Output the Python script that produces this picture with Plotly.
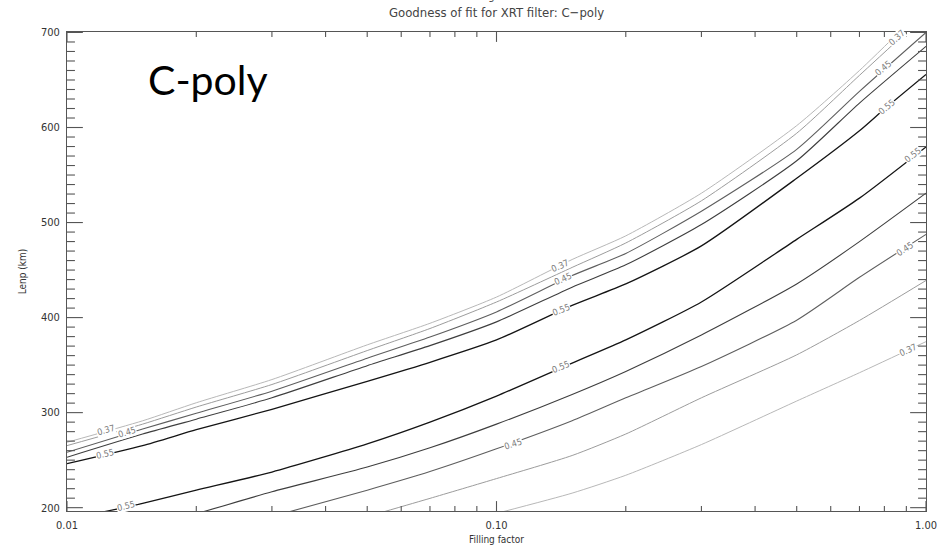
import numpy as np
import plotly.graph_objects as go

# ---------------- data ----------------
# upper branch contours
u37_x = [0.01, 0.015, 0.02, 0.03, 0.05, 0.07, 0.1, 0.15, 0.2, 0.3, 0.5, 0.7, 0.92]
u37_y = [268.8, 291.4, 310.4, 334.8, 371.3, 394.0, 421.6, 461.1, 486.0, 530.9, 602.0, 660.0, 712.0]
u41_x = [0.01, 0.015, 0.02, 0.03, 0.05, 0.07, 0.1, 0.15, 0.2, 0.3, 0.5, 0.7, 0.95]
u41_y = [265.3, 287.9, 305.9, 329.6, 365.3, 388.5, 416.4, 452.8, 478.5, 522.9, 594.0, 654.9, 710.0]
u45_x = [0.01, 0.015, 0.02, 0.03, 0.05, 0.07, 0.1, 0.15, 0.2, 0.3, 0.5, 0.7, 1.0]
u45_y = [258.3, 282.7, 299.4, 322.6, 357.3, 379.5, 405.9, 444.2, 467.5, 511.9, 577.0, 638.0, 700.0]
u50_x = [0.01, 0.015, 0.02, 0.03, 0.05, 0.07, 0.1, 0.15, 0.2, 0.3, 0.5, 0.7, 1.0]
u50_y = [253.1, 277.5, 293.1, 315.6, 349.4, 370.5, 395.5, 432.0, 455.5, 497.9, 565.0, 625.7, 685.4]
u55_x = [0.01, 0.015, 0.02, 0.03, 0.05, 0.07, 0.1, 0.15, 0.2, 0.3, 0.5, 0.7, 0.8, 1.0]
u55_y = [246.3, 265.3, 282.0, 303.5, 333.0, 353.0, 376.5, 412.9, 435.4, 475.4, 546.6, 596.6, 619.5, 655.9]

# lower branch contours
l55_x = [0.012, 0.015, 0.02, 0.03, 0.05, 0.07, 0.1, 0.15, 0.2, 0.3, 0.5, 0.7, 1.0]
l55_y = [195.0, 204.6, 218.4, 237.5, 267.1, 290.0, 317.4, 352.1, 376.5, 416.4, 482.3, 525.7, 579.6]
l50_x = [0.0205, 0.03, 0.05, 0.07, 0.1, 0.15, 0.2, 0.3, 0.5, 0.7, 1.0]
l50_y = [195.0, 216.7, 242.7, 263.0, 287.9, 319.2, 343.4, 381.7, 435.4, 479.9, 530.9]
l45_x = [0.0325, 0.05, 0.07, 0.1, 0.15, 0.2, 0.3, 0.5, 0.7, 1.0]
l45_y = [195.0, 218.4, 238.0, 261.9, 291.4, 315.6, 348.6, 397.3, 442.4, 487.5]
l41_x = [0.054, 0.07, 0.1, 0.15, 0.2, 0.3, 0.5, 0.7, 1.0]
l41_y = [195.0, 209.8, 230.6, 254.9, 277.5, 315.6, 360.8, 397.0, 439.0]
l37_x = [0.102, 0.15, 0.2, 0.3, 0.5, 0.7, 1.0]
l37_y = [195.0, 215.3, 234.1, 266.4, 312.2, 342.0, 374.7]

# contour labels
label_text = ["0.37", "0.45", "0.55", "0.55", "0.37", "0.45", "0.55", "0.55",
              "0.45", "0.37", "0.45", "0.55", "0.55", "0.45", "0.37"]
label_x = [0.01235, 0.01383, 0.01224, 0.01374, 0.1405, 0.1426, 0.1412, 0.1412,
           0.1093, 0.854, 0.796, 0.81, 0.933, 0.893, 0.909]
label_y = [281.5, 279.5, 256.5, 201.8, 454.6, 440.6, 408.5, 347.5,
           267.1, 694.2, 662.9, 621.3, 570.8, 471.9, 366.0]
label_angle = [-16, -17, -13, -14, -24, -24, -22, -22, -18, -42, -40, -40, -38, -33, -25]

# tick values
x_major_ticks = [0.01, 0.1, 1.0]
x_minor_ticks = [0.02, 0.03, 0.04, 0.05, 0.06, 0.07, 0.08, 0.09,
                 0.2, 0.3, 0.4, 0.5, 0.6, 0.7, 0.8, 0.9]
y_major_ticks = [200, 300, 400, 500, 600, 700]
y_minor_ticks = [v for v in range(210, 700, 10) if v % 100 != 0]

# ---------------- styles ----------------
level_color = {"0.37": "#b8b8b8", "0.41": "#9c9c9c", "0.45": "#5e5e5e",
               "0.50": "#3e3e3e", "0.55": "#141414"}
level_width = {"0.37": 1.0, "0.41": 1.0, "0.45": 1.1, "0.50": 1.1, "0.55": 1.3}

lines = [
    ("0.37", u37_x, u37_y), ("0.41", u41_x, u41_y), ("0.45", u45_x, u45_y),
    ("0.50", u50_x, u50_y), ("0.55", u55_x, u55_y),
    ("0.55", l55_x, l55_y), ("0.50", l50_x, l50_y), ("0.45", l45_x, l45_y),
    ("0.41", l41_x, l41_y), ("0.37", l37_x, l37_y),
]

FONT = "Liberation Sans Narrow, DejaVu Sans Condensed, Liberation Sans, sans-serif"
AXC = "#555555"
Y_RANGE = [196.5, 700.5]
X_LOG_RANGE = [-2, 0]
PLOT_W, PLOT_H = 866, 484

fig = go.Figure()
for lvl, xs, ys in lines:
    fig.add_trace(go.Scatter(
        x=xs, y=ys, mode="lines",
        line=dict(color=level_color[lvl], width=level_width[lvl], shape="spline", smoothing=0.6),
        showlegend=False, hoverinfo="skip",
    ))

# ---- inward tick marks on all four sides, drawn as one line trace ----
y_per_px = (Y_RANGE[1] - Y_RANGE[0]) / PLOT_H
dec_per_px = (X_LOG_RANGE[1] - X_LOG_RANGE[0]) / PLOT_W
tx, ty = [], []
for vals, length in ((x_major_ticks, 10), (x_minor_ticks, 5)):
    for v in vals:
        tx += [v, v, None, v, v, None]
        ty += [Y_RANGE[0], Y_RANGE[0] + length * y_per_px, None,
               Y_RANGE[1], Y_RANGE[1] - length * y_per_px, None]
for vals, length in ((y_major_ticks, 16), (y_minor_ticks, 8)):
    for v in vals:
        xl0, xl1 = 10 ** X_LOG_RANGE[0], 10 ** (X_LOG_RANGE[0] + length * dec_per_px)
        xr0, xr1 = 10 ** X_LOG_RANGE[1], 10 ** (X_LOG_RANGE[1] - length * dec_per_px)
        tx += [xl0, xl1, None, xr0, xr1, None]
        ty += [v, v, None, v, v, None]
fig.add_trace(go.Scatter(
    x=tx, y=ty, mode="lines", line=dict(color=AXC, width=1.1),
    showlegend=False, hoverinfo="skip", connectgaps=False,
))

annotations = []
for t, lx, ly, ang in zip(label_text, label_x, label_y, label_angle):
    annotations.append(dict(
        x=np.log10(lx), y=ly, xref="x", yref="y", text=t, showarrow=False,
        textangle=ang, font=dict(family=FONT, size=9, color="#7a7a7a"),
        bgcolor="white", borderpad=0,
    ))

annotations.append(dict(
    x=0.092, y=0.90, xref="paper", yref="paper", text="C-poly", showarrow=False,
    xanchor="left", yanchor="middle",
    font=dict(family="Lato, Open Sans, sans-serif", size=41, color="#000000"),
))
annotations.append(dict(
    x=0.5, y=1.0 + 20 / 484, xref="paper", yref="paper",
    text="Goodness of fit for XRT filter: C\u2212poly", showarrow=False,
    xanchor="center", yanchor="middle",
    font=dict(family=FONT, size=13, color="#444444"),
))
annotations.append(dict(
    x=0.5, y=1.0 + 36 / 484, xref="paper", yref="paper",
    text="Filling factor", showarrow=False,
    xanchor="center", yanchor="middle",
    font=dict(family=FONT, size=11, color="#444444"),
))

fig.update_layout(
    width=949, height=555,
    margin=dict(l=67, r=16, t=32, b=39),
    paper_bgcolor="white", plot_bgcolor="white",
    annotations=annotations,
    font=dict(family=FONT, size=11, color="#333333"),
)

fig.update_xaxes(
    type="log", range=X_LOG_RANGE,
    tickmode="linear", tick0=0, dtick=1, tickformat=".2f",
    ticks="", ticklabelstandoff=4,
    showline=True, linecolor=AXC, linewidth=1, mirror=True,
    showgrid=False, zeroline=False,
    tickfont=dict(family=FONT, size=11, color="#333333"),
    title=dict(text="Filling factor", font=dict(family=FONT, size=10, color="#333333"), standoff=4),
)
fig.update_yaxes(
    range=Y_RANGE,
    tickmode="linear", tick0=0, dtick=100,
    ticks="", ticklabelstandoff=4,
    showline=True, linecolor=AXC, linewidth=1, mirror=True,
    showgrid=False, zeroline=False,
    tickfont=dict(family=FONT, size=11, color="#333333"),
    title=dict(text="Lenp (km)", font=dict(family=FONT, size=10, color="#333333"), standoff=12),
)

fig.write_html("out.html")
